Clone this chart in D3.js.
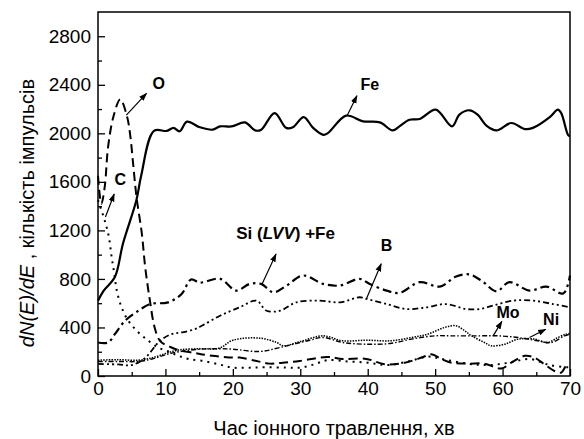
<!DOCTYPE html>
<html>
<head>
<meta charset="utf-8">
<script src="https://cdn.jsdelivr.net/npm/d3@7"></script>
<style>
  body { margin: 0; background: #fff; }
  text { font-family: "Liberation Sans", Arial, sans-serif; fill: #000; }
</style>
</head>
<body>
<svg id="chart" width="584" height="439"></svg>
<script>
// time of ion etching (min) vs dN(E)/dE counts
const fe = [[0,620],[0.8,700],[2.5,815],[3.7,1090],[5.7,1450],[6.4,1650],[8.3,2020],[10.2,2020],[11.2,2045],[12.1,2017],[13.2,2096],[15.1,2050],[17,2030],[18.1,2057],[19.8,2057],[21.8,2090],[23.3,2024],[24.2,2030],[26.2,2167],[27.9,2045],[28.9,2050],[30.5,2134],[31.9,2045],[33.4,1988],[34.1,2002],[36.8,2146],[39.3,2099],[41.8,2090],[43.7,2024],[44.7,2057],[46.2,2112],[47.7,2118],[50.1,2195],[52.5,2057],[53.6,2154],[55.1,2190],[56.3,2154],[57.6,2063],[59.1,2024],[61.3,2085],[63.3,2035],[64.5,2045],[67,2134],[68.2,2195],[68.7,2167],[69.7,1988],[70,1975]];
const oxy = [[0,1650],[0.5,1420],[1.0,1560],[1.5,1890],[2.3,2140],[3.3,2280],[4.3,2140],[4.8,1975],[5.2,1754],[5.7,1480],[6.5,1174],[7,897],[7.7,621],[8.4,400],[9.2,290],[10.9,235],[12.5,205],[14.4,190],[15.1,182],[17,166],[20,152],[21,152],[23.5,124],[25.5,102],[27.4,110],[29.9,124],[33.9,157],[36.3,141],[39.8,141],[42.5,97],[45.5,110],[48,152],[49.4,179],[51,138],[52.4,110],[54.9,102],[57.3,102],[59.8,62],[61.3,110],[63.3,166],[64.7,152],[66.2,97],[67.7,41],[68.7,28],[69.4,83],[70,100]];
const carbon = [[0,1450],[1,1280],[1.6,1150],[2,990],[2.4,850],[2.8,700],[3.5,566],[4.5,455],[6,359],[7.5,290],[8.9,235],[10.5,200],[12,165],[13.5,140],[15.6,124],[18,95],[20,69],[22.5,69],[25,72],[28,69],[30,69],[32,95],[34,130],[37,120],[40,110],[43,90],[46,120],[49,160],[51,140],[55,100],[58,90],[61,110],[64,140],[67,90],[70,70]];
const si = [[0,276],[1.5,276],[2.5,345],[4,455],[6,538],[7.7,593],[10.4,607],[12.4,676],[13.8,795],[15.1,770],[18.1,801],[20.5,704],[22.5,759],[24.2,759],[26,690],[28,746],[30.4,828],[33.4,759],[35.9,746],[38.8,801],[40.3,759],[42.8,704],[44.7,685],[47.7,773],[50.7,737],[53.1,820],[55.1,837],[57,780],[59.1,698],[61,773],[64,704],[66.5,737],[69,680],[70,828]];
const boron = [[0,100],[3,95],[5,90],[7,150],[9.2,290],[10.9,345],[12.4,359],[14.4,387],[15.6,420],[18.1,497],[21,566],[23.5,621],[25,538],[27,538],[29.4,607],[32.9,621],[35.9,607],[38.8,649],[39.8,635],[42.8,593],[45.7,552],[48.7,566],[51.6,593],[54.6,552],[56.6,552],[58.6,580],[61.5,621],[64.5,621],[67.5,593],[70,566]];
const mo = [[0,120],[3,120],[6,120],[8,140],[10,175],[12,200],[15,220],[18,225],[20,221],[24,202],[27,235],[31.4,295],[33.4,317],[36.3,276],[39.8,262],[43.3,268],[46.5,304],[49.9,331],[52.4,331],[56.3,331],[59.3,331],[62.3,317],[65.2,290],[67.2,276],[69.2,331],[70,345]];
const ni = [[0,130],[3,135],[6,130],[8,150],[10,185],[12,215],[15,225],[18,230],[20,295],[24,312],[26.5,276],[27.5,249],[30,284],[33.4,331],[36.3,290],[39.8,295],[43.3,290],[46.5,317],[48.9,345],[51.4,400],[53.1,414],[54.4,373],[55.4,331],[57.3,276],[58.3,249],[60.3,262],[62.3,304],[64.7,304],[66.7,276],[68.2,317],[69.4,345],[70,350]];

const xTicks = [0, 10, 20, 30, 40, 50, 60, 70];
const xMinor = [5, 15, 25, 35, 45, 55, 65];
const yTicks = [0, 400, 800, 1200, 1600, 2000, 2400, 2800];
const yMinor = [200, 600, 1000, 1400, 1800, 2200, 2600];

// annotation: label text, label position, arrow tail (on curve) and head, in data units
const notes = [
  {text: 'O',  at: [9.0, 2410], from: [4.2, 2150], to: [7.2, 2330]},
  {text: 'C',  at: [3.3, 1620], from: [1.1, 1310], to: [2.4, 1500]},
  {text: 'Fe', at: [40.3, 2400], from: [36.9, 2140], to: [38.4, 2310]},
  {text: 'B',  at: [42.8, 1080], from: [39.8, 635], to: [42.0, 925]},
  {text: 'Mo', at: [60.8, 525],  from: [58.6, 331], to: [59.9, 450]},
  {text: 'Ni', at: [67.2, 470],  from: [64.0, 317], to: [66.4, 385]}
];

const svg = d3.select('#chart');
const margin = {left: 98, right: 14, top: 12, bottom: 63};
const W = 584, H = 439;

const x = d3.scaleLinear().domain([0, 70]).range([margin.left, W - margin.right]);
const y = d3.scaleLinear().domain([0, 3000]).range([H - margin.bottom, margin.top]);

// axes, ticks point inwards
svg.append('g')
    .attr('transform', `translate(0,${y(0)})`)
    .call(d3.axisBottom(x).tickValues(xTicks).tickSize(-7).tickPadding(6).tickFormat(d3.format('d')))
    .call(g => g.select('.domain').remove())
    .call(g => g.selectAll('text').attr('dy', '0.71em').style('font-size', '19px'));
svg.append('g')
    .attr('transform', `translate(0,${y(0)})`)
    .call(d3.axisBottom(x).tickValues(xMinor).tickSize(-4).tickFormat(''))
    .call(g => g.select('.domain').remove());
svg.append('g')
    .attr('transform', `translate(${x(0)},0)`)
    .call(d3.axisLeft(y).tickValues(yTicks).tickSize(-7).tickPadding(7).tickFormat(d3.format('d')))
    .call(g => g.select('.domain').remove())
    .call(g => g.selectAll('text').style('font-size', '19px'));
svg.append('g')
    .attr('transform', `translate(${x(0)},0)`)
    .call(d3.axisLeft(y).tickValues(yMinor).tickSize(-4).tickFormat(''))
    .call(g => g.select('.domain').remove());

svg.selectAll('.tick line').attr('stroke', '#000').attr('stroke-width', 1.3);

svg.append('rect')
    .attr('x', x(0)).attr('y', y(3000))
    .attr('width', x(70) - x(0)).attr('height', y(0) - y(3000))
    .attr('fill', 'none').attr('stroke', '#000').attr('stroke-width', 1.5);

// curves
const line = d3.line()
    .x(d => x(d[0]))
    .y(d => y(d[1]))
    .curve(d3.curveCatmullRom.alpha(0.5));

const series = [
  {data: ni,     width: 1.5, dash: '1.5,1.2'},
  {data: mo,     width: 1.4, dash: '5,2,1.5,2'},
  {data: carbon, width: 2,   dash: '2,5'},
  {data: oxy,    width: 2,   dash: '9,5'},
  {data: boron,  width: 1.8, dash: '6,3,2,3,2,3'},
  {data: si,     width: 2.2, dash: '9,4,2.5,4'},
  {data: fe,     width: 2.2, dash: null}
];

svg.append('g').selectAll('path')
  .data(series)
  .join('path')
    .attr('d', d => line(d.data))
    .attr('fill', 'none')
    .attr('stroke', '#000')
    .attr('stroke-width', d => d.width)
    .attr('stroke-dasharray', d => d.dash)
    .attr('stroke-linejoin', 'round');

// arrow labels
svg.append('defs').append('marker')
    .attr('id', 'head')
    .attr('viewBox', '0 0 10 10')
    .attr('refX', 9).attr('refY', 5)
    .attr('markerWidth', 7).attr('markerHeight', 7)
    .attr('orient', 'auto')
  .append('path')
    .attr('d', 'M0,1.5 L10,5 L0,8.5 Z')
    .attr('fill', '#000');

svg.selectAll('line.arrow')
  .data(notes)
  .join('line')
    .attr('class', 'arrow')
    .attr('x1', d => x(d.from[0])).attr('y1', d => y(d.from[1]))
    .attr('x2', d => x(d.to[0])).attr('y2', d => y(d.to[1]))
    .attr('stroke', '#000').attr('stroke-width', 1.2)
    .attr('marker-end', 'url(#head)');

svg.selectAll('text.note')
  .data(notes)
  .join('text')
    .attr('class', 'note')
    .attr('x', d => x(d.at[0])).attr('y', d => y(d.at[1]))
    .attr('text-anchor', 'middle')
    .attr('dy', '0.35em')
    .style('font-size', '16px')
    .style('font-weight', 'bold')
    .text(d => d.text);

// Si (LVV) +Fe label with italic part
const siLabel = svg.append('text')
    .attr('x', x(20.5)).attr('y', y(1180))
    .attr('dy', '0.35em')
    .style('font-size', '17px')
    .style('font-weight', 'bold');
siLabel.append('tspan').text('Si (');
siLabel.append('tspan').style('font-style', 'italic').text('LVV');
siLabel.append('tspan').text(') +Fe');
svg.append('line')
    .attr('x1', x(24.3)).attr('y1', y(755))
    .attr('x2', x(26.4)).attr('y2', y(1005))
    .attr('stroke', '#000').attr('stroke-width', 1.2)
    .attr('marker-end', 'url(#head)');

// axis titles
svg.append('text')
    .attr('x', 334).attr('y', 435)
    .attr('text-anchor', 'middle')
    .style('font-size', '20px')
    .text('Час іонного травлення, хв');

const yTitle = svg.append('text')
    .attr('transform', 'translate(34,213) rotate(-90)')
    .attr('text-anchor', 'middle')
    .style('font-size', '20px');
yTitle.append('tspan').style('font-style', 'italic').text('dN(E)/dE');
yTitle.append('tspan').text(' , кількість імпульсів');
</script>
</body>
</html>
